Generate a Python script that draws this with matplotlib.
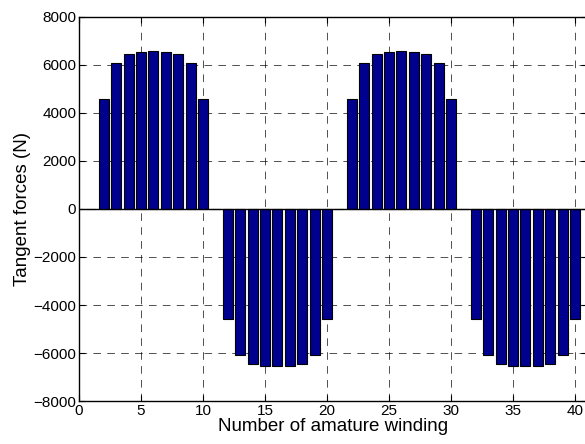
import matplotlib
matplotlib.use("Agg")
import matplotlib.pyplot as plt
import numpy as np

# winding index 1..40 and tangent force per winding (N)
winding = list(range(1, 41))
half_pos = [0, 4600, 6100, 6460, 6530, 6570, 6530, 6460, 6100, 4600]
half_neg = [0, -4600, -6090, -6460, -6540, -6555, -6540, -6460, -6090, -4600]
forces = half_pos + half_neg + half_pos + half_neg

xticks = [0, 5, 10, 15, 20, 25, 30, 35, 40]
yticks = [-8000, -6000, -4000, -2000, 0, 2000, 4000, 6000, 8000]

plt.rcParams['font.family'] = ['Liberation Sans', 'DejaVu Sans']
plt.rcParams['lines.scale_dashes'] = False

fig = plt.figure(figsize=(5.85, 4.44), dpi=100)
ax = fig.add_axes([0.135, 0.0968, 0.869, 0.865])

ax.bar(winding, forces, width=0.8, color='#00008f', edgecolor='k', linewidth=0.8, zorder=3)
ax.axhline(0, color='k', linewidth=1.0, zorder=4)

ax.set_xlim(0, 41)
ax.set_ylim(-8000, 8000)
ax.set_xticks(xticks)
ax.set_yticks(yticks)

ax.grid(True, color='k', linewidth=0.6, linestyle=(0, (5.5, 4.5)), alpha=0.8, zorder=1)
ax.tick_params(direction='in', top=True, right=True, labelsize=11, length=4, pad=2)
for s in ax.spines.values():
    s.set_linewidth(1.0)

ax.set_xlabel('Number of amature winding', fontsize=13.5, labelpad=0.5)
ax.set_ylabel('Tangent forces (N)', fontsize=13.5, labelpad=2)

fig.savefig('out.png', dpi=100)
